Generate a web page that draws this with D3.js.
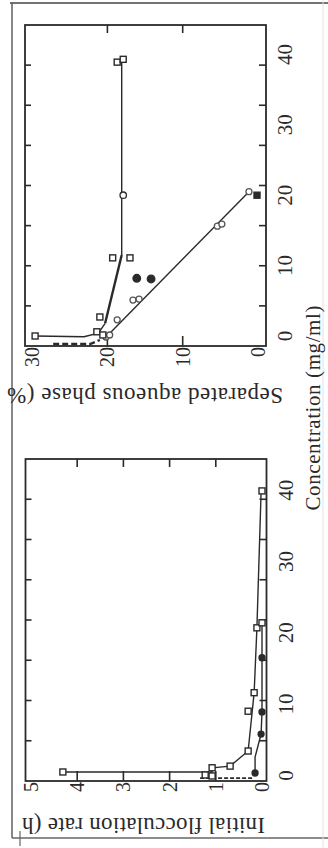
<!DOCTYPE html>
<html><head><meta charset="utf-8">
<script src="https://cdn.jsdelivr.net/npm/d3@7"></script>
<style>html,body{margin:0;padding:0;background:#fff;} svg{display:block;}</style>
</head><body>
<svg id="chart" width="328" height="848"></svg>
<script>
// ---------- data ----------
const concTicks = [0, 10, 20, 30, 40];
const frameMinorTicks = [5, 10, 15, 20, 25, 30, 35];
const sepTicks = [0, 10, 20, 30];
const sepInnerTicks = [10, 20];
const rateTicks = [0, 1, 2, 3, 4, 5];
const rateInnerTicks = [1, 2, 3, 4];

// Separated aqueous phase (%) panel
const sepSqLineConc = [0, -0.1, 0.4, 1.8];
const sepSqLineVal  = [29.6, 23.1, 21.2, 20.3];
const sepBridgeConc = [1.8, 11.5];
const sepBridgeVal  = [20.3, 18.1];
const sepFlatConc = [11.5, 20, 39.2];
const sepFlatVal  = [18.1, 18.1, 18.1];
const sepSqMarkConc = [0, 0.6, 0.15, 2.7, 11.1, 11.1, 38.9, 39.3];
const sepSqMarkVal  = [29.6, 21.4, 20.6, 21.0, 19.3, 17.0, 18.7, 17.9];
const sepOpenCircConc = [20.0];
const sepOpenCircVal  = [17.9];
const sepFitConc = [-0.28, 20.5];
const sepFitVal  = [20.3, 1.2];
const sepGrayConc = [-0.14, 0.14, 2.3, 5.1, 5.24, 15.6, 15.9, 20.5];
const sepGrayVal  = [20.2, 19.7, 18.7, 16.6, 15.8, 5.4, 4.8, 1.2];
const sepFilledConc = [8.2, 8.1];
const sepFilledVal  = [16.1, 14.2];
const sepFilledSqConc = [20.0];
const sepFilledSqVal  = [0.13];
const sepDashConc = [-1.14, -1.14, -0.57];
const sepDashVal  = [27.2, 22.3, 21.0];

// Initial flocculation rate panel
const rateSqLineConc = [0.48, 0.48, 1.07, 1.3, 3.42, 11.6, 20.7, 39.7];
const rateSqLineVal  = [4.31, 1.08, 1.08, 0.69, 0.30, 0.17, 0.11, 0.02];
const rateSqMarkConc = [0.48, 1.07, 1.3, 3.42, 9.0, 11.6, 20.7, 39.9, 0.06, -0.08, 21.4];
const rateSqMarkVal  = [4.31, 1.08, 0.69, 0.30, 0.30, 0.17, 0.11, 0.0, 1.23, 1.08, 0.0];
const rateCircLineConc = [0.34, 2.58, 5.8, 8.9, 16.5, 21.5];
const rateCircLineVal  = [0.15, 0.15, 0.02, 0.0, 0.0, 0.0];
const rateCircMarkConc = [0.34, 5.8, 8.9, 16.5];
const rateCircMarkVal  = [0.15, 0.02, 0.0, 0.0];
const rateDashConc = [-0.37, -0.37];
const rateDashVal  = [1.34, 0.19];

// ---------- drawing ----------
const svg = d3.select("#chart");
const INK = "#2a2a2a";
const FONT = "'Liberation Serif','Times New Roman',serif";

// scan borders (screen coordinates)
svg.append("line").attr("x1",10).attr("y1",3).attr("x2",328).attr("y2",3).attr("stroke","#444").attr("stroke-width",1.6);
svg.append("line").attr("x1",12).attr("y1",3).attr("x2",12).attr("y2",838).attr("stroke","#555").attr("stroke-width",1.4);
svg.append("line").attr("x1",12).attr("y1",838).attr("x2",328).attr("y2",838).attr("stroke","#666").attr("stroke-width",1.4);
svg.append("line").attr("x1",20).attr("y1",831).attr("x2",20).attr("y2",846).attr("stroke","#666").attr("stroke-width",1.2);
svg.append("line").attr("x1",323).attr("y1",0).attr("x2",323).attr("y2",848).attr("stroke","#e2e2e2").attr("stroke-width",1);

// the figure is printed rotated 90° counter-clockwise
const fig = svg.append("g").attr("transform","translate(0,848) rotate(-90)");

function zip(a,b){ return a.map((d,i)=>[d,b[i]]); }

function panel(opt){
  const g = fig.append("g");
  const {u0,u1,v0,v1,x,y} = opt;
  const frameX = d3.scaleLinear().domain([0,40]).range([u0,u1]);
  g.append("rect").attr("x",u0).attr("y",v0).attr("width",u1-u0).attr("height",v1-v0)
    .attr("fill","none").attr("stroke",INK).attr("stroke-width",1.8);
  frameMinorTicks.forEach(t=>{
    g.append("line").attr("x1",frameX(t)).attr("x2",frameX(t)).attr("y1",v1).attr("y2",v1-7).attr("stroke",INK).attr("stroke-width",1.6);
    g.append("line").attr("x1",frameX(t)).attr("x2",frameX(t)).attr("y1",v0).attr("y2",v0+6).attr("stroke",INK).attr("stroke-width",1.6);
  });
  opt.innerTicks.forEach(t=>{
    g.append("line").attr("x1",u0).attr("x2",u0+10).attr("y1",y(t)).attr("y2",y(t)).attr("stroke",INK).attr("stroke-width",1.6);
    g.append("line").attr("x1",u1).attr("x2",u1-8).attr("y1",y(t)).attr("y2",y(t)).attr("stroke",INK).attr("stroke-width",1.6);
  });
  concTicks.forEach(t=>{
    g.append("text").attr("x",x(t)).attr("y",v1+26).attr("text-anchor","middle")
      .attr("font-family",FONT).attr("font-size",21).attr("fill",INK).text(t);
  });
  opt.valTicks.forEach(t=>{
    g.append("text").attr("x",u0-1).attr("y",y(t)).attr("dy","0.35em").attr("text-anchor","end")
      .attr("font-family",FONT).attr("font-size",20).attr("fill",INK).text(t);
  });
  g.append("text").attr("transform",`translate(${opt.titleU},${opt.titleV}) rotate(-90)`)
    .attr("text-anchor","start").attr("font-family",FONT).attr("font-size",23).attr("fill",INK)
    .attr("textLength",opt.titleLen).attr("lengthAdjust","spacing").text(opt.title);
  return g;
}

function line(g,x,y,cs,vs,w,dash,col){
  g.append("path").datum(zip(cs,vs))
    .attr("d", d3.line().x(d=>x(d[0])).y(d=>y(d[1])))
    .attr("fill","none").attr("stroke",col||INK).attr("stroke-width",w)
    .attr("stroke-dasharray",dash||null);
}
function squares(g,x,y,cs,vs,filled,s){
  s = s||6;
  g.selectAll(null).data(zip(cs,vs)).enter().append("rect")
    .attr("x",d=>x(d[0])-s/2).attr("y",d=>y(d[1])-s/2).attr("width",s).attr("height",s)
    .attr("fill",filled?INK:"#fff").attr("stroke",INK).attr("stroke-width",1.4);
}
function circles(g,x,y,cs,vs,filled,r,col){
  g.selectAll(null).data(zip(cs,vs)).enter().append("circle")
    .attr("cx",d=>x(d[0])).attr("cy",d=>y(d[1])).attr("r",r)
    .attr("fill",filled?(col||INK):"#fff").attr("stroke",col||INK).attr("stroke-width",1.3);
}

// ----- Separated aqueous phase panel (top of page) -----
const xSep = d3.scaleLinear().domain([0,40]).range([512, 793.6]);
const ySep = d3.scaleLinear().domain([0,30]).range([258, 32.1]);
const gSep = panel({u0:502,u1:823,v0:25,v1:266,x:xSep,y:ySep,
  innerTicks:sepInnerTicks,valTicks:sepTicks,
  title:"Separated  aqueous phase (%",titleU:460,titleV:283,titleLen:276});
line(gSep,xSep,ySep,sepFitConc,sepFitVal,1.4);
line(gSep,xSep,ySep,sepSqLineConc,sepSqLineVal,1.4);
line(gSep,xSep,ySep,sepBridgeConc,sepBridgeVal,2.4);
line(gSep,xSep,ySep,sepFlatConc,sepFlatVal,1.4);
line(gSep,xSep,ySep,sepDashConc,sepDashVal,2.4,"6,3");
circles(gSep,xSep,ySep,sepGrayConc,sepGrayVal,false,3,"#555");
squares(gSep,xSep,ySep,sepSqMarkConc,sepSqMarkVal,false,6);
circles(gSep,xSep,ySep,sepOpenCircConc,sepOpenCircVal,false,3.2);
circles(gSep,xSep,ySep,sepFilledConc,sepFilledVal,true,3.8);
squares(gSep,xSep,ySep,sepFilledSqConc,sepFilledSqVal,true,6);

// ----- Initial flocculation rate panel (bottom of page) -----
const xRate = d3.scaleLinear().domain([0,40]).range([72.6, 357.8]);
const yRate = d3.scaleLinear().domain([0,5]).range([262, 31]);
const gRate = panel({u0:67,u1:389,v0:25.5,v1:266.5,x:xRate,y:yRate,
  innerTicks:rateInnerTicks,valTicks:rateTicks,
  title:"Initial flocculation rate (h",titleU:30,titleV:265,titleLen:243});
line(gRate,xRate,yRate,rateSqLineConc,rateSqLineVal,1.4);
line(gRate,xRate,yRate,rateCircLineConc,rateCircLineVal,1.4);
line(gRate,xRate,yRate,rateDashConc,rateDashVal,1.8,"4,2");
squares(gRate,xRate,yRate,rateSqMarkConc,rateSqMarkVal,false,6);
circles(gRate,xRate,yRate,rateCircMarkConc,rateCircMarkVal,true,3);

// shared concentration title
fig.append("text").attr("x",440).attr("y",320).attr("text-anchor","middle")
  .attr("font-family",FONT).attr("font-size",21).attr("fill",INK)
  .attr("textLength",205).attr("lengthAdjust","spacing").text("Concentration (mg/ml)");
</script>
</body></html>
